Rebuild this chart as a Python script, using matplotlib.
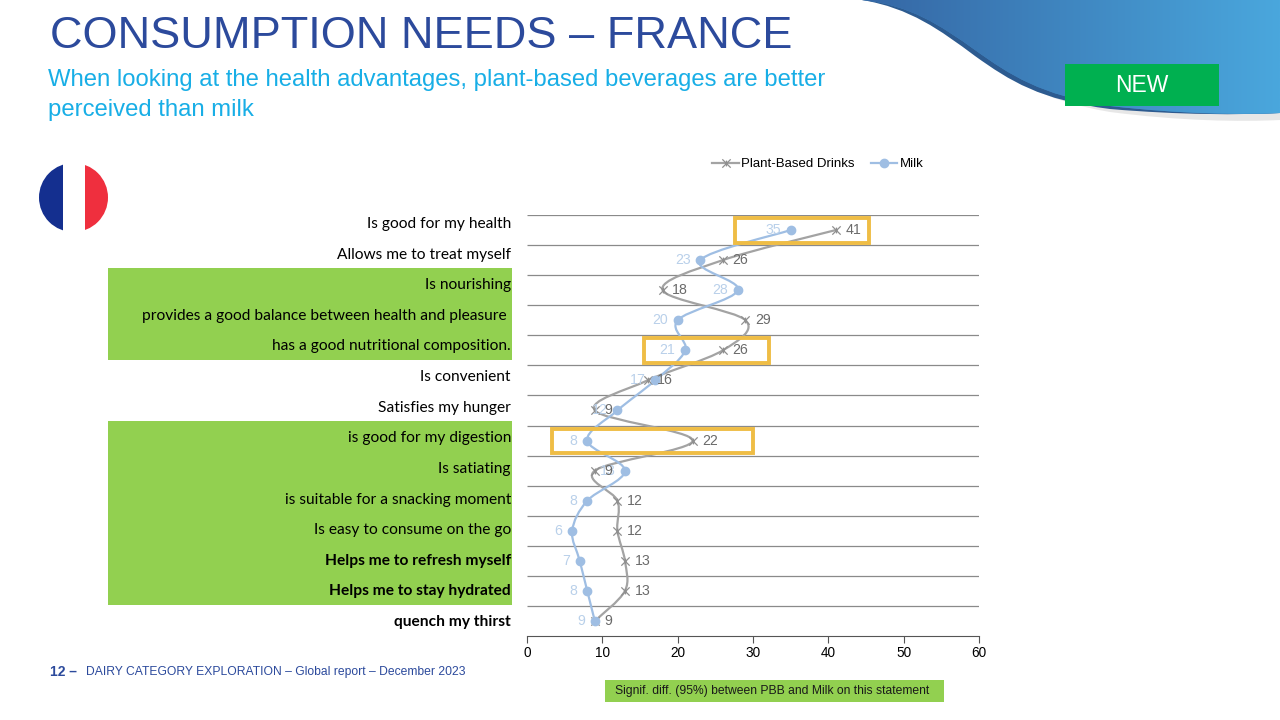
import numpy as np
import matplotlib
matplotlib.use("Agg")
import matplotlib.pyplot as plt
from matplotlib.path import Path
from matplotlib.patches import PathPatch, Rectangle, Circle
from matplotlib.lines import Line2D

# -----------------------------------------------
# Data
# -----------------------------------------------
statements = [
    "Is good for my health",
    "Allows me to treat myself",
    "Is nourishing",
    "provides a good balance between health and pleasure ",
    "has a good nutritional composition.",
    "Is convenient",
    "Satisfies my hunger",
    "is good for my digestion",
    "Is satiating",
    "is suitable for a snacking moment",
    "Is easy to consume on the go",
    "Helps me to refresh myself",
    "Helps me to stay hydrated",
    "quench my thirst",
]
pbd_values  = [41, 26, 18, 29, 26, 16, 9, 22, 9, 12, 12, 13, 13, 9]
milk_values = [35, 23, 28, 20, 21, 17, 12, 8, 13, 8, 6, 7, 8, 9]
bold_rows   = [11, 12, 13]
green_rows  = [(2, 4), (7, 12)]          # first/last row of each green band
# significant rows with (left, right) of the highlight box on the value scale
boxes = [(0, 27.6, 45.4), (4, 15.5, 32.1), (7, 3.3, 30.0)]
x_ticks = [0, 10, 20, 30, 40, 50, 60]

# -----------------------------------------------
# Colours / fonts
# -----------------------------------------------
TITLE_BLUE = "#2c4a9c"
SUB_CYAN   = "#18aee6"
PBD_LINE   = "#a3a3a3"
PBD_TEXT   = "#6a6a6a"
MILK_LINE  = "#9fbee3"
MILK_TEXT  = "#b9d0ea"
GREEN      = "#92d050"
GOLD       = "#efbd45"
SANS       = ["Liberation Sans", "DejaVu Sans"]
LABEL_FONT = ["Lato", "DejaVu Sans"]

plt.rcParams["font.family"] = SANS

star = Path([(-1, -1), (1, 1), (-1, 1), (1, -1), (0, -0.7), (0, 0.7)],
            [Path.MOVETO, Path.LINETO, Path.MOVETO, Path.LINETO,
             Path.MOVETO, Path.LINETO])


def smooth_path(xs, ys, sx, sy):
    # Catmull-Rom style bezier through the points (like an Excel smoothed line)
    P = np.column_stack([np.asarray(xs, float) * sx, np.asarray(ys, float) * sy])
    n = len(P)
    verts = [P[0]]
    codes = [Path.MOVETO]
    for i in range(n - 1):
        p0 = P[max(i - 1, 0)]
        p1 = P[i]
        p2 = P[i + 1]
        p3 = P[min(i + 2, n - 1)]
        verts += [p1 + (p2 - p0) / 6, p2 - (p3 - p1) / 6, p2]
        codes += [Path.CURVE4] * 3
    verts = np.array(verts)
    verts[:, 0] /= sx
    verts[:, 1] /= sy
    return Path(verts, codes)


fig = plt.figure(figsize=(12.8, 7.2), dpi=100)

# -----------------------------------------------
# Decorations (whole-figure pixel axes)
# -----------------------------------------------
deco = fig.add_axes([0, 0, 1, 1], zorder=0)
deco.set_xlim(0, 1280)
deco.set_ylim(720, 0)
deco.axis("off")

swoosh_v = np.array([(862, 0), (910, 5), (940, 25), (975, 50),
                     (1010, 75), (1040, 95), (1110, 106),
                     (1180, 114), (1240, 115), (1280, 113),
                     (1280, 0), (862, 0)], float)
swoosh_c = [Path.MOVETO] + [Path.CURVE4] * 9 + [Path.LINETO, Path.CLOSEPOLY]
# soft grey shadow under the right end, dark blue rim under the middle
soft = swoosh_v + np.array([[0, 0], [0, 1], [0, 2], [0, 3], [0, 4], [0, 5], [0, 6],
                            [0, 7], [0, 7], [0, 7], [0, 0], [0, 0]])
rim = swoosh_v + np.array([[0, 0], [0, 3], [0, 5], [0, 6], [0, 6], [0, 5], [0, 3],
                           [0, 1], [0, 0], [0, 0], [0, 0], [0, 0]])
deco.add_patch(PathPatch(Path(soft, swoosh_c), fc="#d8d8d8", ec="none", alpha=0.6, zorder=0))
deco.add_patch(PathPatch(Path(rim, swoosh_c), fc="#2d5b90", ec="none", zorder=1))
shape = PathPatch(Path(swoosh_v, swoosh_c), fc="#3f86c2", ec="none", zorder=1.5)
deco.add_patch(shape)
grad = np.linspace(0, 1, 256)[None, :]
cmap = matplotlib.colors.LinearSegmentedColormap.from_list("sw", ["#3566a4", "#4aa7dd"])
im = deco.imshow(grad, cmap=cmap, extent=[860, 1280, 118, 0], aspect="auto", zorder=2)
im.set_clip_path(shape)

deco.add_patch(Rectangle((1065, 64), 154, 42, fc="#00b050", ec="none", zorder=3))
deco.text(1142, 86, "NEW", color="white", fontsize=16.5, ha="center", va="center", zorder=4)

# flag
flag_clip = Circle((73.5, 197.5), 34.5, transform=deco.transData)
for x0, w, c in [(39, 24, "#142f8f"), (63, 22, "white"), (85, 24, "#ef2f3e")]:
    r = Rectangle((x0, 163), w, 70, fc=c, ec="none", zorder=2)
    deco.add_patch(r)
    r.set_clip_path(flag_clip)

# titles
deco.text(50, 37, "CONSUMPTION NEEDS \u2013 FRANCE", color=TITLE_BLUE,
          fontsize=32.5, ha="left", va="center")
deco.text(48, 80, "When looking at the health advantages, plant-based beverages are better",
          color=SUB_CYAN, fontsize=17.2, ha="left", va="center")
deco.text(48, 110, "perceived than milk", color=SUB_CYAN, fontsize=17.2, ha="left", va="center")

# footer
deco.text(50, 672, "12 \u2013", color=TITLE_BLUE, fontsize=10, fontweight="bold",
          ha="left", va="center")
deco.text(86, 672, "DAIRY CATEGORY EXPLORATION \u2013 Global report \u2013 December 2023",
          color=TITLE_BLUE, fontsize=8.7, ha="left", va="center")
deco.add_patch(Rectangle((605, 680), 339, 22, fc=GREEN, ec="none"))
deco.text(615, 691, "Signif. diff. (95%) between PBB and Milk on this statement",
          color="#1a1a1a", fontsize=8.7, ha="left", va="center")

# -----------------------------------------------
# Statement labels with green bands
# -----------------------------------------------
lab = fig.add_axes([108 / 1280, 1 - 637.3 / 720, (511 - 108) / 1280, 428.6 / 720], zorder=1)
lab.set_xlim(0, 1)
lab.set_ylim(len(statements) - 0.5, -0.5)
lab.axis("off")
for a, b in green_rows:
    lab.add_patch(Rectangle((0, a - 0.5 - 0.07), 1.003, b - a + 1, fc=GREEN, ec="none",
                            clip_on=False))
for i, s in enumerate(statements):
    lab.text(1.0, i, s, ha="right", va="center", fontsize=11.2, family=LABEL_FONT,
             fontweight="bold" if i in bold_rows else "normal", color="black")

# -----------------------------------------------
# Main chart
# -----------------------------------------------
ax = fig.add_axes([527 / 1280, 1 - 636 / 720, 452 / 1280, 421 / 720], zorder=2)
ax.patch.set_alpha(0)
n = len(statements)
rows = np.arange(n)
ax.set_xlim(0, 60)
ax.set_ylim(n - 0.5, -0.5)
ax.hlines(np.arange(-0.5, n - 1, 1), 0, 60, color="#8a8a8a", lw=0.9, zorder=1)
for sp in ["top", "left", "right"]:
    ax.spines[sp].set_visible(False)
ax.spines["bottom"].set_color("#555555")
ax.set_xticks(x_ticks)
ax.set_yticks([])
ax.tick_params(axis="x", length=5, color="#555555", labelsize=9.8, pad=2.5)

sx, sy = 452 / 60, 421 / n
for vals, col in [(pbd_values, PBD_LINE), (milk_values, MILK_LINE)]:
    ax.add_patch(PathPatch(smooth_path(vals, rows, sx, sy), fc="none", ec=col,
                           lw=1.6, zorder=3))
ax.plot(pbd_values, rows, ls="none", marker=star, ms=6, mec="#8f8f8f", mew=0.9, zorder=4)
ax.plot(milk_values, rows, ls="none", marker="o", ms=6, mfc=MILK_LINE, mec=MILK_LINE, zorder=4)

# milk labels sit left of the dots, PBD labels right of the stars (drawn on top)
for i in rows:
    ax.annotate(str(milk_values[i]), (milk_values[i], i), xytext=(-7, 0),
                textcoords="offset points", ha="right", va="center",
                fontsize=10.2, color=MILK_TEXT, zorder=4.5)
    ax.annotate(str(pbd_values[i]), (pbd_values[i], i), xytext=(7, 0),
                textcoords="offset points", ha="left", va="center",
                fontsize=10.2, color=PBD_TEXT, zorder=5)

for r, x0, x1 in boxes:
    ax.add_patch(Rectangle((x0, r - 0.4), x1 - x0, 0.82, fc="none", ec=GOLD,
                           lw=2.8, zorder=6, clip_on=False))

handles = [
    Line2D([], [], color=PBD_LINE, lw=1.6, marker=star, ms=6, mec="#8f8f8f", mew=0.9),
    Line2D([], [], color=MILK_LINE, lw=1.6, marker="o", ms=6, mfc=MILK_LINE, mec=MILK_LINE),
]
fig.legend(handles, ["Plant-Based Drinks", "Milk"], loc="center",
           bbox_to_anchor=(818 / 1280, 1 - 164 / 720), ncol=2, frameon=False,
           fontsize=9.5, handlelength=2.0, handletextpad=0.2, columnspacing=1.2)

fig.savefig("out.png", dpi=100)
